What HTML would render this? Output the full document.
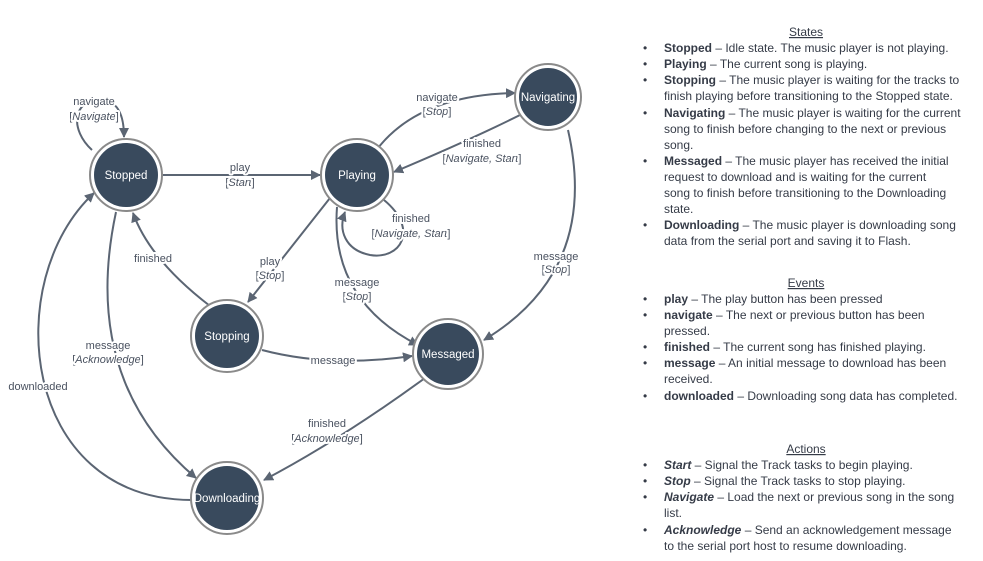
<!DOCTYPE html>
<html><head><meta charset="utf-8"><style>
body{margin:0;background:#fff;width:983px;height:561px;overflow:hidden}
svg{display:block}
.l{font-family:"Liberation Sans",sans-serif;font-size:11px;fill:#4a5260;text-anchor:middle;paint-order:stroke;stroke:#fff;stroke-width:4px;stroke-linejoin:round}
.n{font-family:"Liberation Sans",sans-serif;font-size:11.5px;fill:#fff;text-anchor:middle}
.e{fill:none;stroke:#5b6573;stroke-width:2}
.t{font-family:"Liberation Sans",sans-serif;font-size:12px;fill:#353b47}
.t tspan.b{font-weight:bold}
</style></head><body>
<svg width="983" height="561" viewBox="0 0 983 561">
<defs><marker id="a" viewBox="0 0 10 10" refX="9" refY="5" markerWidth="5" markerHeight="5" orient="auto"><path d="M0,0 L10,5 L0,10 z" fill="#5b6573"/></marker></defs>
<g marker-end="url(#a)">
<path class="e" d="M92 150 C70 130 72 100 100 100 C118 100 124 115 124 137"/>
<path class="e" d="M163 175 L320 175"/>
<path class="e" d="M378 148 Q420 95 515 93"/>
<path class="e" d="M520 115 Q470 140 394 172"/>
<path class="e" d="M384 200 C420 230 400 260 370 255 C345 250 338 230 345 212"/>
<path class="e" d="M330 198 L248 302"/>
<path class="e" d="M337 207 Q330 300 418 345"/>
<path class="e" d="M568 130 Q600 270 484 340"/>
<path class="e" d="M210 306 Q150 260 133 213"/>
<path class="e" d="M262 350 Q330 368 412 356"/>
<path class="e" d="M116 212 Q80 380 196 478"/>
<path class="e" d="M192 500 C20 500 0 280 94 193"/>
<path class="e" d="M425 378 Q340 440 264 480"/>
</g>
<g>
<circle cx="126" cy="175" r="36" fill="#fff" stroke="#8a8a8a" stroke-width="2"/><circle cx="126" cy="175" r="32" fill="#394a5d"/>
<circle cx="357" cy="175" r="36" fill="#fff" stroke="#8a8a8a" stroke-width="2"/><circle cx="357" cy="175" r="32" fill="#394a5d"/>
<circle cx="548" cy="97" r="33" fill="#fff" stroke="#8a8a8a" stroke-width="2"/><circle cx="548" cy="97" r="29" fill="#394a5d"/>
<circle cx="227" cy="336" r="36" fill="#fff" stroke="#8a8a8a" stroke-width="2"/><circle cx="227" cy="336" r="32" fill="#394a5d"/>
<circle cx="448" cy="354" r="35" fill="#fff" stroke="#8a8a8a" stroke-width="2"/><circle cx="448" cy="354" r="31" fill="#394a5d"/>
<circle cx="227" cy="498" r="36" fill="#fff" stroke="#8a8a8a" stroke-width="2"/><circle cx="227" cy="498" r="32" fill="#394a5d"/>
</g>
<text class="n" x="126" y="179">Stopped</text>
<text class="n" x="357" y="179">Playing</text>
<text class="n" x="548" y="101">Navigating</text>
<text class="n" x="227" y="340">Stopping</text>
<text class="n" x="448" y="358">Messaged</text>
<text class="n" x="227" y="502">Downloading</text>
<text class="l" x="94" y="105">navigate</text><text class="l" x="94" y="120">[<tspan font-style="italic">Navigate</tspan>]</text>
<text class="l" x="240" y="171">play</text><text class="l" x="240" y="186">[<tspan font-style="italic">Start</tspan>]</text>
<text class="l" x="437" y="101">navigate</text><text class="l" x="437" y="115">[<tspan font-style="italic">Stop</tspan>]</text>
<text class="l" x="482" y="147">finished</text><text class="l" x="482" y="162">[<tspan font-style="italic">Navigate, Start</tspan>]</text>
<text class="l" x="411" y="222">finished</text><text class="l" x="411" y="237">[<tspan font-style="italic">Navigate, Start</tspan>]</text>
<text class="l" x="270" y="265">play</text><text class="l" x="270" y="279">[<tspan font-style="italic">Stop</tspan>]</text>
<text class="l" x="357" y="286">message</text><text class="l" x="357" y="300">[<tspan font-style="italic">Stop</tspan>]</text>
<text class="l" x="556" y="260">message</text><text class="l" x="556" y="273">[<tspan font-style="italic">Stop</tspan>]</text>
<text class="l" x="153" y="262">finished</text>
<text class="l" x="333" y="364">message</text>
<text class="l" x="108" y="349">message</text><text class="l" x="108" y="363">[<tspan font-style="italic">Acknowledge</tspan>]</text>
<text class="l" x="38" y="390">downloaded</text>
<text class="l" x="327" y="427">finished</text><text class="l" x="327" y="442">[<tspan font-style="italic">Acknowledge</tspan>]</text>

<g class="t">
<text x="806" y="36" text-anchor="middle" text-decoration="underline">States</text>
<text x="643" y="52">•</text><text x="664" y="52"><tspan class="b">Stopped</tspan> – Idle state.  The music player is not playing.</text>
<text x="643" y="68">•</text><text x="664" y="68"><tspan class="b">Playing</tspan> – The current song is playing.</text>
<text x="643" y="84">•</text><text x="664" y="84"><tspan class="b">Stopping</tspan> – The music player is waiting for the tracks to</text>
<text x="664" y="100">finish playing before transitioning to the Stopped state.</text>
<text x="643" y="117">•</text><text x="664" y="117"><tspan class="b">Navigating</tspan> – The music player is waiting for the current</text>
<text x="664" y="133">song to finish before changing to the next or previous</text>
<text x="664" y="149">song.</text>
<text x="643" y="165">•</text><text x="664" y="165"><tspan class="b">Messaged</tspan> – The music player has received the initial</text>
<text x="664" y="181">request to download and is waiting for the current</text>
<text x="664" y="197">song to finish before transitioning to the Downloading</text>
<text x="664" y="213">state.</text>
<text x="643" y="229">•</text><text x="664" y="229"><tspan class="b">Downloading</tspan> – The music player is downloading song</text>
<text x="664" y="245">data from the serial port and saving it to Flash.</text>

<text x="806" y="287" text-anchor="middle" text-decoration="underline">Events</text>
<text x="643" y="303">•</text><text x="664" y="303"><tspan class="b">play</tspan> – The play button has been pressed</text>
<text x="643" y="319">•</text><text x="664" y="319"><tspan class="b">navigate</tspan> – The next or previous button has been</text>
<text x="664" y="335">pressed.</text>
<text x="643" y="351">•</text><text x="664" y="351"><tspan class="b">finished</tspan> – The current song has finished playing.</text>
<text x="643" y="367">•</text><text x="664" y="367"><tspan class="b">message</tspan> – An initial message to download has been</text>
<text x="664" y="383">received.</text>
<text x="643" y="400">•</text><text x="664" y="400"><tspan class="b">downloaded</tspan> – Downloading song data has completed.</text>

<text x="806" y="453" text-anchor="middle" text-decoration="underline">Actions</text>
<text x="643" y="469">•</text><text x="664" y="469"><tspan class="b" font-style="italic">Start</tspan> –  Signal the Track tasks to begin playing.</text>
<text x="643" y="485">•</text><text x="664" y="485"><tspan class="b" font-style="italic">Stop</tspan> – Signal the Track tasks to stop playing.</text>
<text x="643" y="501">•</text><text x="664" y="501"><tspan class="b" font-style="italic">Navigate</tspan> – Load the next or previous song in the song</text>
<text x="664" y="517">list.</text>
<text x="643" y="534">•</text><text x="664" y="534"><tspan class="b" font-style="italic">Acknowledge</tspan> – Send an acknowledgement message</text>
<text x="664" y="550">to the serial port host to resume downloading.</text>
</g>
</svg>
</body></html>
